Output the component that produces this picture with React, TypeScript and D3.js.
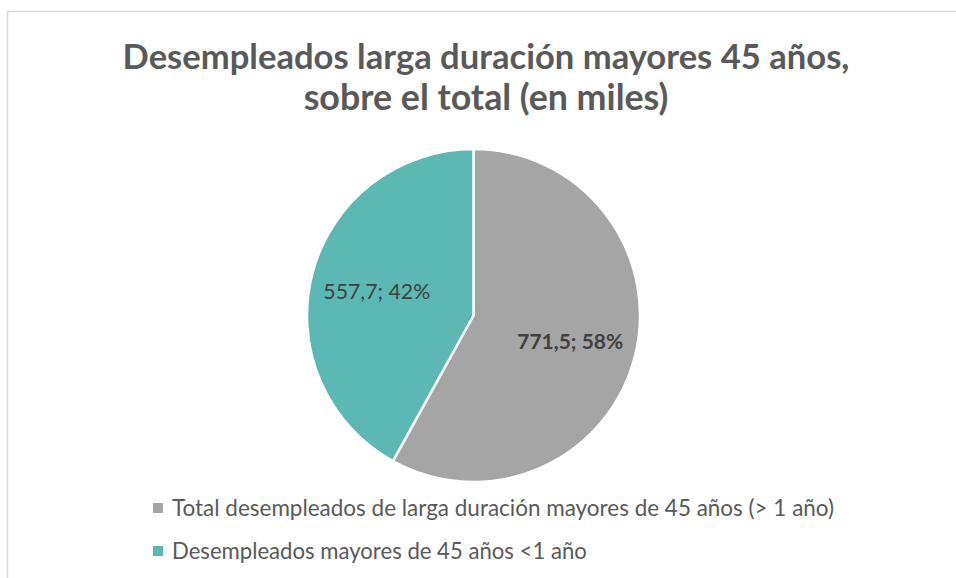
import React, { useEffect, useRef } from "react";
import * as d3 from "d3";

const categories = [
  "Total desempleados de larga duración mayores de 45 años (> 1 año)",
  "Desempleados mayores de 45 años <1 año",
];
const values = [771.5, 557.7];
const percentLabels = ["58%", "42%"];
const valueLabels = ["771,5", "557,7"];
const colors = ["#A5A5A5", "#5BB8B2"];
const labelWeights = ["bold", "normal"];
const titleLines = [
  "Desempleados larga duración mayores 45 años,",
  "sobre el total (en miles)",
];

const W = 956;
const H = 578;
const FONT = "Lato, 'Open Sans', sans-serif";

export default function App() {
  const ref = useRef<SVGSVGElement | null>(null);

  useEffect(() => {
    const svg = d3.select(ref.current);
    svg.selectAll("*").remove();

    // chart border
    svg
      .append("rect")
      .attr("x", 7.5)
      .attr("y", 11.5)
      .attr("width", 1000)
      .attr("height", 700)
      .attr("fill", "#fff")
      .attr("stroke", "#D9D9D9")
      .attr("stroke-width", 1.5);

    // fit helper: scale font size so text spans target width
    const fit = (sel: d3.Selection<SVGTextElement, unknown, null, undefined>, target: number, base: number) => {
      const node = sel.node();
      if (!node) return;
      const len = node.getComputedTextLength();
      if (len > 0) sel.attr("font-size", (base * target) / len);
    };

    // title
    const titleTargets = [727, 365];
    const titleY = [69, 110];
    titleLines.forEach((t, i) => {
      const el = svg
        .append("text")
        .attr("x", 486)
        .attr("y", titleY[i])
        .attr("text-anchor", "middle")
        .attr("font-family", FONT)
        .attr("font-weight", "bold")
        .attr("font-size", 30)
        .attr("fill", "#595959")
        .text(t);
      fit(el as any, titleTargets[i], 30);
    });

    // pie
    const cx = 473.5;
    const cy = 315.5;
    const r = 166.5;
    const pie = d3
      .pie<number>()
      .sort(null)
      .value((d) => d);
    const arcs = pie(values);
    const arc = d3.arc<d3.PieArcDatum<number>>().innerRadius(0).outerRadius(r);
    const labelArc = d3
      .arc<d3.PieArcDatum<number>>()
      .innerRadius(r * 0.6)
      .outerRadius(r * 0.6);

    const g = svg.append("g").attr("transform", `translate(${cx},${cy})`);
    g.selectAll("path")
      .data(arcs)
      .join("path")
      .attr("d", arc)
      .attr("fill", (_, i) => colors[i])
      .attr("stroke", "#fff")
      .attr("stroke-width", 2.5)
      .attr("stroke-linejoin", "round");

    const labelTargets = [106, 107];
    arcs.forEach((a, i) => {
      const [lx, ly] = labelArc.centroid(a);
      const el = g
        .append("text")
        .attr("x", lx)
        .attr("y", ly + 1.5)
        .attr("dy", "0.35em")
        .attr("text-anchor", "middle")
        .attr("font-family", FONT)
        .attr("font-weight", labelWeights[i])
        .attr("font-size", 20)
        .attr("fill", "#404040")
        .text(`${valueLabels[i]}; ${percentLabels[i]}`);
      fit(el as any, labelTargets[i], 20);
    });

    // legend
    const legendY = [508, 551];
    const legendTargets = [662, 415];
    categories.forEach((c, i) => {
      svg
        .append("rect")
        .attr("x", 153)
        .attr("y", legendY[i] - 5)
        .attr("width", 10)
        .attr("height", 10)
        .attr("fill", colors[i]);
      const el = svg
        .append("text")
        .attr("x", 172)
        .attr("y", legendY[i])
        .attr("dy", "0.35em")
        .attr("font-family", FONT)
        .attr("font-size", 20)
        .attr("fill", "#595959")
        .text(c);
      fit(el as any, legendTargets[i], 20);
    });
  }, []);

  return (
    <svg
      ref={ref}
      width={W}
      height={H}
      style={{ position: "absolute", left: 0, top: 0, display: "block" }}
    />
  );
}
